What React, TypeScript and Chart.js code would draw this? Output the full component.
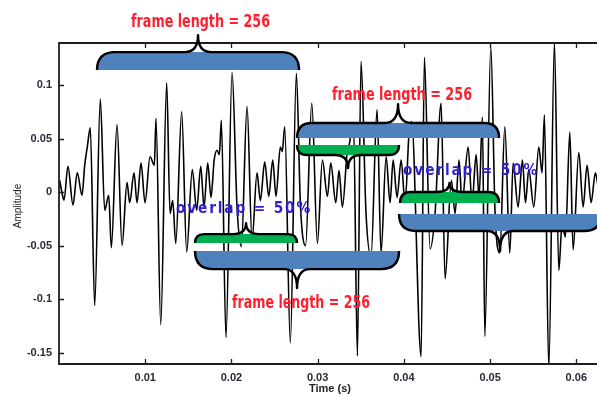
import React, { useEffect, useRef } from "react";
import { Chart, registerables } from "chart.js";

Chart.register(...registerables);

// ---- waveform (time in seconds, amplitude) ----
const timeS = [
  0.00008, 0.00035, 0.00058, 0.00104, 0.00162, 0.00212, 0.00267, 0.00298, 0.00328, 0.00363,
  0.00414, 0.00479, 0.0053, 0.00577, 0.00607, 0.00673, 0.00731, 0.00789, 0.0082, 0.0087,
  0.00905, 0.00951, 0.00998, 0.01056, 0.01106, 0.01125, 0.0118, 0.01249, 0.01288, 0.01319,
  0.01354, 0.01423, 0.01481, 0.01546, 0.01597, 0.01644, 0.01682, 0.01725, 0.01763, 0.018,
  0.01833, 0.0186, 0.01883, 0.01937, 0.02007, 0.02065, 0.02115, 0.02181, 0.02239, 0.02297,
  0.02335, 0.02386, 0.02433, 0.02479, 0.02517, 0.02567, 0.0259, 0.02618, 0.02683, 0.02753,
  0.028, 0.0286, 0.02932, 0.02997, 0.03055, 0.03113, 0.03152, 0.0321, 0.03248, 0.03287,
  0.03345, 0.0336, 0.03416, 0.03461, 0.03503, 0.03561, 0.03619, 0.03689, 0.03735, 0.03794,
  0.0384, 0.03875, 0.03921, 0.03968, 0.04014, 0.0406, 0.0409, 0.042, 0.04238, 0.04304,
  0.04362, 0.04432, 0.04478, 0.04551, 0.04594, 0.0464, 0.04675, 0.04745, 0.04791, 0.04838,
  0.04872, 0.04911, 0.04939, 0.05008, 0.05058, 0.05113, 0.05171, 0.05229, 0.05267, 0.05325,
  0.05375, 0.0541, 0.05449, 0.05507, 0.05565, 0.05603, 0.0563, 0.05681, 0.05746, 0.05797,
  0.05835, 0.05874, 0.05925, 0.05963, 0.06029, 0.06079, 0.06125, 0.06172, 0.06221, 0.06253
];
const amplitude = [
  0.011, -0.001, -0.0075, 0.024, -0.012, 0.018, -0.003, 0.025, 0.042, 0.06,
  -0.106, 0.087, -0.017, -0.003, -0.052, 0.063, -0.05, 0.009, -0.01, 0.018,
  -0.01, 0.027, -0.01, 0.033, 0.025, 0.069, -0.124, 0.102, -0.02, -0.008,
  -0.048, 0.075, -0.056, 0.021, -0.017, 0.024, -0.014, 0.027, -0.005, 0.03,
  0.039, 0.035, 0.067, -0.136, 0.112, -0.014, -0.051, 0.08, -0.045, 0.018,
  -0.008, 0.028, -0.004, 0.03, -0.004, 0.042, 0.038, 0.061, -0.141, 0.111,
  -0.012, -0.05, 0.083, -0.048, 0.03, -0.004, 0.027, -0.01, 0.02, -0.014,
  0.039, 0.042, 0.065, -0.153, 0.122, -0.02, -0.06, 0.077, -0.057, 0.033,
  -0.01, 0.03, -0.005, 0.03, -0.01, 0.055, 0.066, -0.154, 0.126, -0.053,
  -0.02, 0.083, -0.081, 0.011, -0.02, 0.03, -0.01, 0.042, -0.01, 0.035,
  -0.005, 0.07, -0.135, 0.136, -0.02, -0.057, 0.061, -0.057, 0.027, -0.014,
  0.03, -0.01, 0.021, -0.014, 0.042, 0.018, 0.072, -0.165, 0.14, -0.073,
  -0.03, -0.042, 0.056, -0.054, 0.037, -0.014, 0.025, -0.01, 0.018, 0.005
];

// ---- axes ----
const xLimits = [0, 0.0624];
const yLimits = [-0.1607, 0.1393];
const xTickValues = [0.01, 0.02, 0.03, 0.04, 0.05, 0.06];
const xTickLabels = ["0.01", "0.02", "0.03", "0.04", "0.05", "0.06"];
const yTickValues = [-0.15, -0.1, -0.05, 0, 0.05, 0.1];
const yTickLabels = ["-0.15", "-0.1", "-0.05", "0", "0.05", "0.1"];
const xTitle = "Time (s)";
const yTitle = "Amplitude";

// ---- annotations (data units) ----
const BLUE = "#4f81bd";
const GREEN = "#00b050";
const braceX0 = [0.00441, 0.02761, 0.02761, 0.03956, 0.03944, 0.01578, 0.01578];
const braceX1 = [0.02784, 0.05104, 0.03944, 0.05104, 0.06288, 0.02761, 0.03944];
const braceLineY = [0.1308, 0.0645, 0.0346, 0.0, -0.0364, -0.0393, -0.072];
const braceFillY = [0.114, 0.0505, 0.0439, -0.0103, -0.0206, -0.0477, -0.0551];
const braceTipY = [0.1467, 0.0822, 0.0224, 0.0084, -0.0551, -0.029, -0.0897];
const braceColor = [BLUE, BLUE, GREEN, GREEN, BLUE, GREEN, BLUE];

const labelText = ["frame length = 256", "frame length = 256", "frame length = 256", "overlap = 50%", "overlap = 50%"];
const labelX0 = [0.00835, 0.03167, 0.02007, 0.01357, 0.03991];
const labelX1 = [0.02448, 0.04791, 0.03608, 0.02935, 0.05568];
const labelY = [0.1542, 0.086, -0.1084, -0.0196, 0.0159];
const labelKind = ["frame", "frame", "frame", "overlap", "overlap"];

function drawBrace(ctx: CanvasRenderingContext2D, x0: number, x1: number, yl: number, yf: number, yt: number, color: string) {
  const r = Math.abs(yf - yl);
  const xc = (x0 + x1) / 2;
  const w = 13;
  ctx.beginPath();
  ctx.moveTo(x0, yf);
  ctx.quadraticCurveTo(x0, yl, x0 + r, yl);
  ctx.lineTo(x1 - r, yl);
  ctx.quadraticCurveTo(x1, yl, x1, yf);
  ctx.closePath();
  ctx.fillStyle = color;
  ctx.fill();
  ctx.beginPath();
  ctx.moveTo(x0, yf);
  ctx.quadraticCurveTo(x0, yl, x0 + r, yl);
  ctx.lineTo(xc - w, yl);
  ctx.quadraticCurveTo(xc, yl, xc, yt);
  ctx.quadraticCurveTo(xc, yl, xc + w, yl);
  ctx.lineTo(x1 - r, yl);
  ctx.quadraticCurveTo(x1, yl, x1, yf);
  ctx.strokeStyle = "#000";
  ctx.lineWidth = 2.4;
  ctx.lineJoin = "round";
  ctx.stroke();
}

function drawFitText(ctx: CanvasRenderingContext2D, text: string, px0: number, px1: number, py: number, font: string, color: string, spacing: string) {
  ctx.save();
  ctx.font = font;
  (ctx as any).letterSpacing = spacing;
  const m = ctx.measureText(text).width;
  const sx = (px1 - px0) / m;
  ctx.translate(px0, py);
  ctx.scale(sx, 1);
  ctx.textAlign = "left";
  ctx.textBaseline = "alphabetic";
  ctx.fillStyle = color;
  ctx.fillText(text, 0, 0);
  ctx.restore();
}

const overlayPlugin = {
  id: "overlay",
  afterDatasetsDraw(chart: any) {
    const { ctx, chartArea } = chart;
    const xs = chart.scales.x;
    const ys = chart.scales.y;
    const { left, top, bottom } = chartArea;
    const right = chart.width;
    ctx.save();
    // frame
    ctx.strokeStyle = "#1e1e1e";
    ctx.lineWidth = 1.8;
    ctx.beginPath();
    ctx.moveTo(right + 2, top);
    ctx.lineTo(left, top);
    ctx.lineTo(left, bottom);
    ctx.lineTo(right + 2, bottom);
    ctx.stroke();
    ctx.lineWidth = 1.3;
    ctx.beginPath();
    xTickValues.forEach((v) => {
      const px = Math.round(xs.getPixelForValue(v)) + 0.5;
      ctx.moveTo(px, bottom);
      ctx.lineTo(px, bottom - 5);
      ctx.moveTo(px, top);
      ctx.lineTo(px, top + 5);
    });
    yTickValues.forEach((v) => {
      const py = Math.round(ys.getPixelForValue(v)) + 0.5;
      ctx.moveTo(left, py);
      ctx.lineTo(left + 5, py);
    });
    ctx.stroke();

    // axis titles
    ctx.fillStyle = "#222";
    ctx.font = "bold 11px 'Liberation Sans', Arial, sans-serif";
    ctx.textAlign = "center";
    ctx.textBaseline = "middle";
    ctx.fillText(xTitle, 330, 389);
    ctx.save();
    ctx.translate(18, 206);
    ctx.rotate(-Math.PI / 2);
    ctx.font = "10px 'Liberation Sans', Arial, sans-serif";
    ctx.fillText(yTitle, 0, 0);
    ctx.restore();

    // braces
    for (let i = 0; i < braceX0.length; i++) {
      drawBrace(
        ctx,
        xs.getPixelForValue(braceX0[i]),
        xs.getPixelForValue(braceX1[i]),
        ys.getPixelForValue(braceLineY[i]),
        ys.getPixelForValue(braceFillY[i]),
        ys.getPixelForValue(braceTipY[i]),
        braceColor[i]
      );
    }
    // labels
    for (let i = 0; i < labelText.length; i++) {
      const px0 = xs.getPixelForValue(labelX0[i]);
      const px1 = xs.getPixelForValue(labelX1[i]);
      const py = ys.getPixelForValue(labelY[i]);
      if (labelKind[i] === "frame") {
        drawFitText(ctx, labelText[i], px0, px1, py, "bold 18px 'DejaVu Sans', sans-serif", "#ff1f2e", "0px");
      } else {
        drawFitText(ctx, labelText[i], px0, px1, py, "bold 15px 'DejaVu Sans', sans-serif", "#2f1fcf", "2px");
      }
    }
    ctx.restore();
  },
};

export default function App() {
  const canvasRef = useRef<HTMLCanvasElement | null>(null);

  useEffect(() => {
    const canvas = canvasRef.current;
    if (!canvas) return;
    const points = timeS.map((t, i) => ({ x: t, y: amplitude[i] }));
    const tickFont = { family: "'Liberation Sans', Arial, sans-serif", size: 11, weight: "bold" as const };
    const chart = new Chart(canvas, {
      type: "line",
      data: {
        datasets: [
          {
            data: points,
            borderColor: "#000",
            borderWidth: 1.6,
            pointRadius: 0,
            cubicInterpolationMode: "monotone",
            fill: false,
          },
        ],
      },
      options: {
        animation: false,
        responsive: false,
        devicePixelRatio: 1,
        layout: { padding: { top: 43, left: 0, right: 0, bottom: 0 } },
        plugins: { legend: { display: false }, tooltip: { enabled: false } },
        scales: {
          x: {
            type: "linear",
            min: xLimits[0],
            max: xLimits[1],
            grid: { display: false, drawTicks: false },
            border: { display: false },
            afterBuildTicks: (s: any) => {
              s.ticks = xTickValues.map((v) => ({ value: v }));
            },
            afterFit: (s: any) => {
              s.height = 32;
            },
            ticks: {
              autoSkip: false,
              maxRotation: 0,
              padding: 7,
              color: "#2a2a38",
              font: tickFont,
              callback: (_v: any, i: number) => xTickLabels[i],
            },
          },
          y: {
            type: "linear",
            min: yLimits[0],
            max: yLimits[1],
            grid: { display: false, drawTicks: false },
            border: { display: false },
            afterBuildTicks: (s: any) => {
              s.ticks = yTickValues.map((v) => ({ value: v }));
            },
            afterFit: (s: any) => {
              s.width = 59;
            },
            ticks: {
              autoSkip: false,
              padding: 7,
              color: "#2a2a38",
              font: tickFont,
              callback: (_v: any, i: number) => yTickLabels[i],
            },
          },
        },
      },
      plugins: [overlayPlugin],
    });
    return () => chart.destroy();
  }, []);

  return (
    <div style={{ position: "absolute", left: 0, top: 0, width: 597, height: 396, background: "#fff" }}>
      <canvas ref={canvasRef} width={597} height={396} style={{ display: "block" }} />
    </div>
  );
}
